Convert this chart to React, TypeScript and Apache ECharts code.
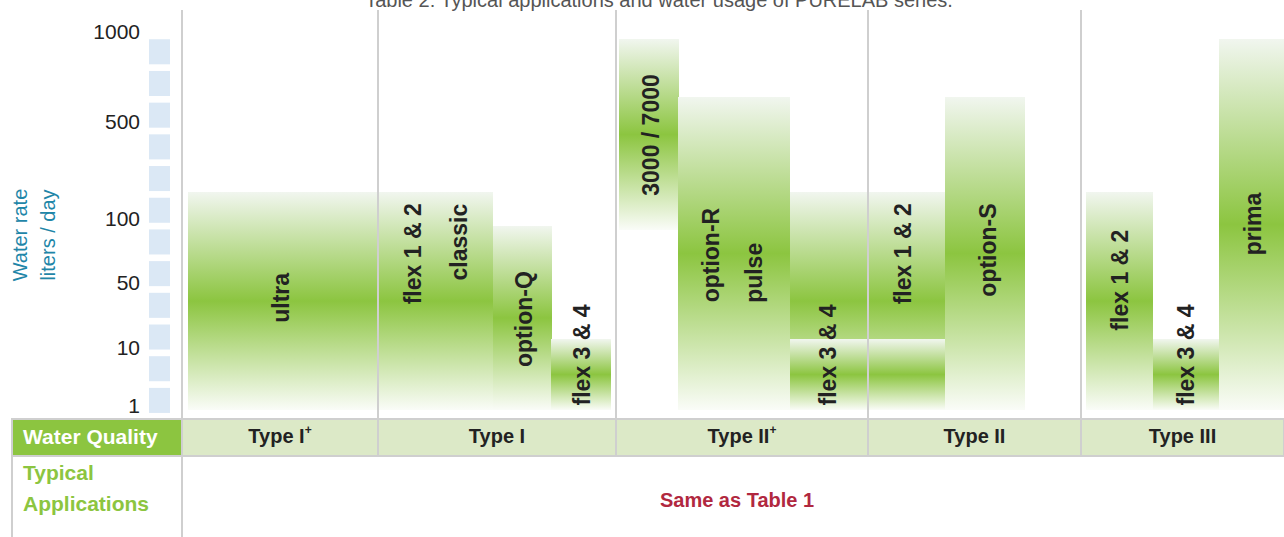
import React, { useEffect, useRef } from 'react';
import * as echarts from 'echarts';

const TITLE = 'Table 2: Typical applications and water usage of PURELAB series.';
const Y_NAME = 'Water rate\nliters / day';
const ROW_HEADER_1 = 'Water Quality';
const ROW_HEADER_2 = 'Typical\nApplications';
const APPLICATIONS_TEXT = 'Same as Table 1';

// Water quality columns (boundaries on the chart's horizontal scale)
const qualityNames = ['Type I', 'Type I', 'Type II', 'Type II', 'Type III'];
const qualityPlus = [true, false, true, false, false];
const qualityStart = [0, 19.6, 43.4, 68.6, 89.9];
const qualityEnd = [19.6, 43.4, 68.6, 89.9, 110.2];

// Water rate ticks (liters / day) and their positions on the rate scale
const rateTickLabels = ['1', '10', '50', '100', '500', '1000'];
const rateTickPos = [0.41, 2.21, 4.26, 6.31, 9.34, 12.18];

// Steps of the rate scale, marked by the blue squares
const rateSteps = [0, 1, 2, 3, 4, 5, 6, 7, 8, 9, 10, 11];

// Product bars: horizontal extent and rate range
const barProducts = ['ultra', 'flex 1 & 2 / classic', 'option-Q', 'flex 3 & 4', '3000 / 7000', 'option-R / pulse', 'flex 1 & 2', 'flex 3 & 4', 'option-S', 'flex 1 & 2', 'flex 3 & 4', 'prima'];
const barStart = [0.6, 19.6, 31.1, 36.9, 43.7, 49.6, 60.8, 60.8, 76.3, 90.4, 97.1, 103.7];
const barEnd = [19.6, 31.1, 37.0, 42.9, 49.7, 60.8, 76.3, 76.3, 84.3, 97.1, 103.7, 110.2];
const barLow = [0.25, 0.25, 0.25, 0.25, 5.93, 0.25, 0.25, 0.25, 0.25, 0.25, 0.25, 0.25];
const barHigh = [7.13, 7.13, 6.06, 2.49, 11.96, 10.13, 7.13, 2.49, 10.13, 7.13, 2.49, 11.96];

// Product names written on the bars
const labelTexts = ['ultra', 'flex 1 & 2', 'classic', 'option-Q', 'flex 3 & 4', '3000 / 7000', 'option-R', 'pulse', 'flex 3 & 4', 'flex 1 & 2', 'option-S', 'flex 1 & 2', 'flex 3 & 4', 'prima'];
const labelX = [9.9, 23.1, 27.7, 34.2, 40.0, 46.9, 52.9, 57.2, 64.6, 72.1, 80.6, 93.8, 100.4, 107.1];
const labelY = [3.79, 5.18, 5.55, 3.12, 1.99, 8.93, 5.14, 4.58, 1.99, 5.18, 5.30, 4.35, 1.99, 6.12];

const FONT = '"Liberation Sans", Arial, Helvetica, sans-serif';
const BORDER = '#cfcfcf';
const GREEN = '#8cc540';
const LIGHT_GREEN = '#dce9c7';

export default function App() {
  const ref = useRef<HTMLDivElement>(null);

  useEffect(() => {
    if (!ref.current) return;
    const chart = echarts.init(ref.current, null, { renderer: 'svg' });

    const barGradient = () =>
      new echarts.graphic.LinearGradient(0, 0, 0, 1, [
        { offset: 0, color: '#f1f6ef' },
        { offset: 0.5, color: GREEN },
        { offset: 1, color: '#fafcf8' },
      ]);

    const option: any = {
      animation: false,
      backgroundColor: '#ffffff',
      grid: { left: 182, right: 0, top: 25, bottom: 119 },
      xAxis: { type: 'value', min: 0, max: 110.2, show: false },
      yAxis: {
        type: 'value',
        min: 0,
        max: 12.4,
        axisLine: { show: false },
        axisTick: { show: false },
        splitLine: { show: false },
        axisLabel: {
          customValues: rateTickPos,
          margin: 42,
          color: '#222',
          fontSize: 21,
          fontFamily: FONT,
          formatter: (v: number) => {
            let best = 0;
            rateTickPos.forEach((p, i) => {
              if (Math.abs(p - v) < Math.abs(rateTickPos[best] - v)) best = i;
            });
            return rateTickLabels[best];
          },
        },
      },
      graphic: [
        {
          type: 'text',
          x: 659,
          y: 0,
          style: { text: TITLE, fill: '#555', font: `20px ${FONT}`, align: 'center', verticalAlign: 'middle' },
        },
        {
          type: 'text',
          x: 34,
          y: 235,
          rotation: Math.PI / 2,
          style: { text: Y_NAME, fill: '#1f86a8', font: `20px ${FONT}`, align: 'center', verticalAlign: 'middle', lineHeight: 28 },
        },
        {
          type: 'rect',
          shape: { x: 12, y: 419, width: 170, height: 37 },
          style: { fill: GREEN, stroke: BORDER, lineWidth: 2 },
        },
        {
          type: 'text',
          x: 23,
          y: 436,
          style: { text: ROW_HEADER_1, fill: '#fff', font: `bold 21px ${FONT}`, align: 'left', verticalAlign: 'middle' },
        },
        {
          type: 'polyline',
          shape: { points: [[12, 456], [12, 540]] },
          style: { stroke: BORDER, lineWidth: 2, fill: null },
        },
        {
          type: 'polyline',
          shape: { points: [[12, 456], [1284, 456]] },
          style: { stroke: BORDER, lineWidth: 2, fill: null },
        },
        {
          type: 'text',
          x: 23,
          y: 488,
          style: { text: ROW_HEADER_2, fill: GREEN, font: `bold 21px ${FONT}`, align: 'left', verticalAlign: 'middle', lineHeight: 31 },
        },
        {
          type: 'text',
          x: 737,
          y: 500,
          style: { text: APPLICATIONS_TEXT, fill: '#b1283f', font: `bold 20px ${FONT}`, align: 'center', verticalAlign: 'middle' },
        },
      ],
      series: [
        {
          type: 'custom',
          name: 'scale steps',
          clip: false,
          z: 1,
          data: rateSteps.map((s) => [s]),
          renderItem: (params: any, api: any) => {
            const s = api.value(0);
            const top = api.coord([0, s + 0.95]);
            const bottom = api.coord([0, s + 0.16]);
            return {
              type: 'rect',
              shape: { x: top[0] - 33, y: top[1], width: 21, height: bottom[1] - top[1] },
              style: { fill: '#dbe8f5' },
            };
          },
        },
        {
          type: 'custom',
          name: 'products',
          clip: false,
          z: 2,
          data: barProducts.map((_, i) => [barStart[i], barEnd[i], barLow[i], barHigh[i]]),
          renderItem: (params: any, api: any) => {
            const a = api.coord([api.value(0), api.value(3)]);
            const b = api.coord([api.value(1), api.value(2)]);
            return {
              type: 'rect',
              shape: { x: a[0], y: a[1], width: b[0] - a[0], height: b[1] - a[1] },
              style: { fill: barGradient() },
            };
          },
        },
        {
          type: 'custom',
          name: 'water quality',
          clip: false,
          z: 3,
          data: qualityNames.map((_, i) => [qualityStart[i], qualityEnd[i], i]),
          renderItem: (params: any, api: any) => {
            const i = api.value(2);
            const a = api.coord([api.value(0), 0]);
            const b = api.coord([api.value(1), 0]);
            const rowTop = a[1] + 1;
            const rowBottom = rowTop + 37;
            const children: any[] = [
              {
                type: 'rect',
                shape: { x: a[0], y: rowTop, width: b[0] - a[0], height: 37 },
                style: { fill: LIGHT_GREEN, stroke: BORDER, lineWidth: 2 },
              },
              {
                type: 'line',
                shape: { x1: a[0], y1: 10, x2: a[0], y2: i === 0 ? 540 : rowBottom },
                style: { stroke: BORDER, lineWidth: 2 },
              },
              {
                type: 'text',
                x: (a[0] + b[0]) / 2,
                y: (rowTop + rowBottom) / 2 - 1.5,
                style: {
                  text: qualityPlus[i] ? `{t|${qualityNames[i]}}{p|+}` : `{t|${qualityNames[i]}}`,
                  align: 'center',
                  verticalAlign: 'middle',
                  rich: {
                    t: { fontFamily: FONT, fontSize: 20, fontWeight: 'bold', fill: '#222', lineHeight: 24 },
                    p: { fontFamily: FONT, fontSize: 12, fontWeight: 'bold', fill: '#222', lineHeight: 16, verticalAlign: 'top' },
                  },
                },
              },
            ];
            return { type: 'group', children };
          },
        },
        {
          type: 'custom',
          name: 'product names',
          clip: false,
          z: 4,
          data: labelTexts.map((_, i) => [labelX[i], labelY[i], i]),
          renderItem: (params: any, api: any) => {
            const p = api.coord([api.value(0), api.value(1)]);
            return {
              type: 'text',
              x: p[0],
              y: p[1],
              rotation: Math.PI / 2,
              style: {
                text: labelTexts[api.value(2)],
                fill: '#222',
                font: `bold 23px ${FONT}`,
                align: 'center',
                verticalAlign: 'middle',
              },
            };
          },
        },
      ],
    };

    chart.setOption(option);
    return () => chart.dispose();
  }, []);

  return (
    <div
      ref={ref}
      style={{ position: 'fixed', left: 0, top: 0, width: 1284, height: 537, background: '#fff' }}
    />
  );
}
